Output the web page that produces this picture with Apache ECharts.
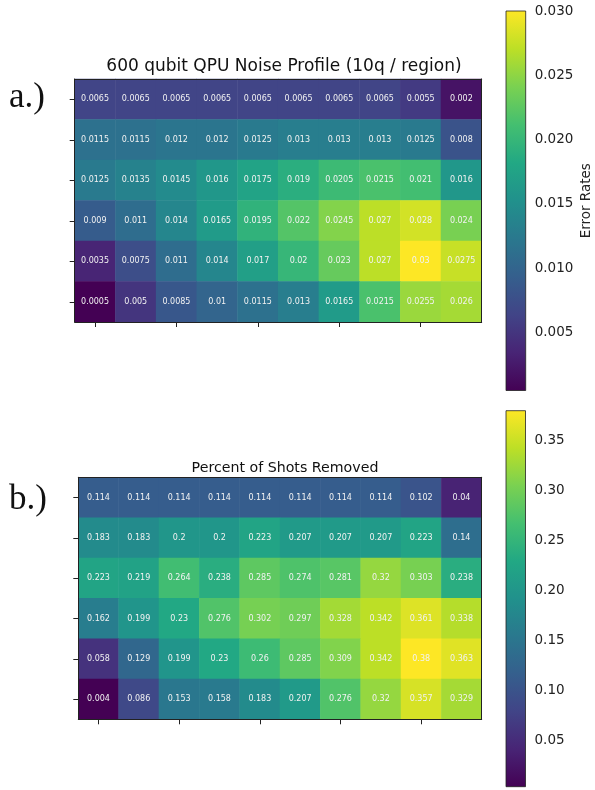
<!DOCTYPE html>
<html>
<head>
<meta charset="utf-8">
<style>
  html, body { margin: 0; padding: 0; background: #fff; }
  #chart { width: 595px; height: 790px; }
</style>
<script src="https://cdn.jsdelivr.net/npm/echarts@6/dist/echarts.min.js"></script>
</head>
<body>
<div id="chart"></div>
<script>
// Region grid: 10 columns x 6 rows, rows listed top to bottom
const columns = ['0', '1', '2', '3', '4', '5', '6', '7', '8', '9'];
const rows = ['0', '1', '2', '3', '4', '5'];

// Error rate per region (10 qubits / region)
const errorRates = [
  [0.0065, 0.0065, 0.0065, 0.0065, 0.0065, 0.0065, 0.0065, 0.0065, 0.0055, 0.002],
  [0.0115, 0.0115, 0.012, 0.012, 0.0125, 0.013, 0.013, 0.013, 0.0125, 0.008],
  [0.0125, 0.0135, 0.0145, 0.016, 0.0175, 0.019, 0.0205, 0.0215, 0.021, 0.016],
  [0.009, 0.011, 0.014, 0.0165, 0.0195, 0.022, 0.0245, 0.027, 0.028, 0.024],
  [0.0035, 0.0075, 0.011, 0.014, 0.017, 0.02, 0.023, 0.027, 0.03, 0.0275],
  [0.0005, 0.005, 0.0085, 0.01, 0.0115, 0.013, 0.0165, 0.0215, 0.0255, 0.026]
];

// Fraction of shots removed per region
const shotsRemoved = [
  [0.114, 0.114, 0.114, 0.114, 0.114, 0.114, 0.114, 0.114, 0.102, 0.04],
  [0.183, 0.183, 0.2, 0.2, 0.223, 0.207, 0.207, 0.207, 0.223, 0.14],
  [0.223, 0.219, 0.264, 0.238, 0.285, 0.274, 0.281, 0.32, 0.303, 0.238],
  [0.162, 0.199, 0.23, 0.276, 0.302, 0.297, 0.328, 0.342, 0.361, 0.338],
  [0.058, 0.129, 0.199, 0.23, 0.26, 0.285, 0.309, 0.342, 0.38, 0.363],
  [0.004, 0.086, 0.153, 0.158, 0.183, 0.207, 0.276, 0.32, 0.357, 0.329]
];

// Colorbar tick values
const errorTicks = [0.005, 0.010, 0.015, 0.020, 0.025, 0.030];
const shotTicks = [0.05, 0.10, 0.15, 0.20, 0.25, 0.30, 0.35];

const titleA = '600 qubit QPU Noise Profile (10q / region)';
const titleB = 'Percent of Shots Removed';
const cbarLabelA = 'Error Rates';

const viridis = ['#440154', '#482475', '#414487', '#355f8d', '#2a788e', '#21918c',
                 '#22a884', '#44bf70', '#7ad151', '#bddf26', '#fde725'];

const FONT = 'DejaVu Sans';
const INK = '#222';

function toCells(matrix) {
  const out = [];
  matrix.forEach((row, r) => row.forEach((v, c) => out.push([c, r, v])));
  return out;
}
function flatMin(m) { return Math.min(...m.flat()); }
function flatMax(m) { return Math.max(...m.flat()); }

const errLo = flatMin(errorRates), errHi = flatMax(errorRates);
const shotLo = flatMin(shotsRemoved), shotHi = flatMax(shotsRemoved);

const gradientStops = viridis.map((c, i) => ({ offset: i / (viridis.length - 1), color: c }));

function colorbarItem(params, api) {
  const lo = api.value(0), hi = api.value(1);
  const p0 = api.coord([0, lo]);
  const p1 = api.coord([1, hi]);
  return {
    type: 'rect',
    shape: { x: p0[0], y: p1[1], width: p1[0] - p0[0], height: p0[1] - p1[1] },
    style: {
      fill: { type: 'linear', x: 0, y: 1, x2: 0, y2: 0, colorStops: gradientStops },
      stroke: INK, lineWidth: 0.8
    }
  };
}

// Heatmap frame: ticks on bottom/left, bare spines on top/right
function frameAxesX(gridIndex) {
  return [
    { type: 'category', gridIndex, data: columns, position: 'bottom', z: 10,
      axisLine: { show: true, lineStyle: { color: INK, width: 1 } },
      axisTick: { show: true, interval: 1, alignWithLabel: true, length: 5, lineStyle: { color: INK } },
      axisLabel: { show: false }, splitLine: { show: false } },
    { type: 'category', gridIndex, data: columns, position: 'top', z: 10,
      axisLine: { show: true, lineStyle: { color: INK, width: 1 } },
      axisTick: { show: false }, axisLabel: { show: false }, splitLine: { show: false } }
  ];
}
function frameAxesY(gridIndex) {
  return [
    { type: 'category', gridIndex, data: rows, inverse: true, position: 'left', z: 10,
      axisLine: { show: true, lineStyle: { color: INK, width: 1 } },
      axisTick: { show: true, interval: 0, alignWithLabel: true, length: 5, lineStyle: { color: INK } },
      axisLabel: { show: false }, splitLine: { show: false } },
    { type: 'category', gridIndex, data: rows, inverse: true, position: 'right', z: 10,
      axisLine: { show: true, lineStyle: { color: INK, width: 1 } },
      axisTick: { show: false }, axisLabel: { show: false }, splitLine: { show: false } }
  ];
}

function cbarAxisY(gridIndex, lo, hi, ticks, digits, name) {
  return {
    type: 'value', gridIndex, min: lo, max: hi, position: 'right',
    axisLine: { show: false },
    axisTick: { show: true, length: 5, customValues: ticks, lineStyle: { color: INK } },
    axisLabel: { show: true, customValues: ticks, margin: 9, color: INK,
      fontFamily: FONT, fontSize: 13.5, formatter: v => v.toFixed(digits) },
    splitLine: { show: false },
    name: name || '', nameLocation: 'middle', nameRotate: 90, nameGap: 54,
    nameTextStyle: { color: INK, fontFamily: FONT, fontSize: 13.5 }
  };
}

const cellLabel = {
  show: true, color: '#f2f2f2', fontFamily: FONT, fontSize: 8,
  formatter: p => String(p.value[2])
};

const chart = echarts.init(document.getElementById('chart'), null, { renderer: 'canvas' });

chart.setOption({
  backgroundColor: '#fff',
  animation: false,
  title: [
    { text: titleA, left: 279, top: 53, textAlign: 'center',
      textStyle: { fontFamily: FONT, fontSize: 17, fontWeight: 'normal', color: '#111' } },
    { text: titleB, left: 280, top: 456, textAlign: 'center',
      textStyle: { fontFamily: FONT, fontSize: 14.2, fontWeight: 'normal', color: '#111' } }
  ],
  grid: [
    { left: 74.7, top: 79, width: 407, height: 243 },
    { left: 78.3, top: 477.3, width: 403.4, height: 242 },
    { left: 506, top: 11, width: 19.7, height: 379.5 },
    { left: 506, top: 410.7, width: 19.5, height: 376 }
  ],
  xAxis: [
    ...frameAxesX(0),
    ...frameAxesX(1),
    { type: 'value', gridIndex: 2, min: 0, max: 1, show: false },
    { type: 'value', gridIndex: 3, min: 0, max: 1, show: false }
  ],
  yAxis: [
    ...frameAxesY(0),
    ...frameAxesY(1),
    cbarAxisY(2, errLo, errHi, errorTicks, 3, cbarLabelA),
    cbarAxisY(3, shotLo, shotHi, shotTicks, 2, '')
  ],
  visualMap: [
    { type: 'continuous', show: false, seriesIndex: 0, min: errLo, max: errHi,
      inRange: { color: viridis } },
    { type: 'continuous', show: false, seriesIndex: 1, min: shotLo, max: shotHi,
      inRange: { color: viridis } }
  ],
  series: [
    { type: 'heatmap', xAxisIndex: 0, yAxisIndex: 0, data: toCells(errorRates),
      label: cellLabel, emphasis: { disabled: true } },
    { type: 'heatmap', xAxisIndex: 2, yAxisIndex: 2, data: toCells(shotsRemoved),
      label: cellLabel, emphasis: { disabled: true } },
    { type: 'custom', xAxisIndex: 4, yAxisIndex: 4, data: [[errLo, errHi]],
      renderItem: colorbarItem, clip: false, silent: true },
    { type: 'custom', xAxisIndex: 5, yAxisIndex: 5, data: [[shotLo, shotHi]],
      renderItem: colorbarItem, clip: false, silent: true }
  ],
  graphic: [
    { type: 'text', left: 9, top: 80,
      style: { text: 'a.)', font: '35px "Liberation Serif", "DejaVu Serif", serif', fill: '#111' } },
    { type: 'text', left: 9, top: 482,
      style: { text: 'b.)', font: '35px "Liberation Serif", "DejaVu Serif", serif', fill: '#111' } }
  ]
});
</script>
</body>
</html>
